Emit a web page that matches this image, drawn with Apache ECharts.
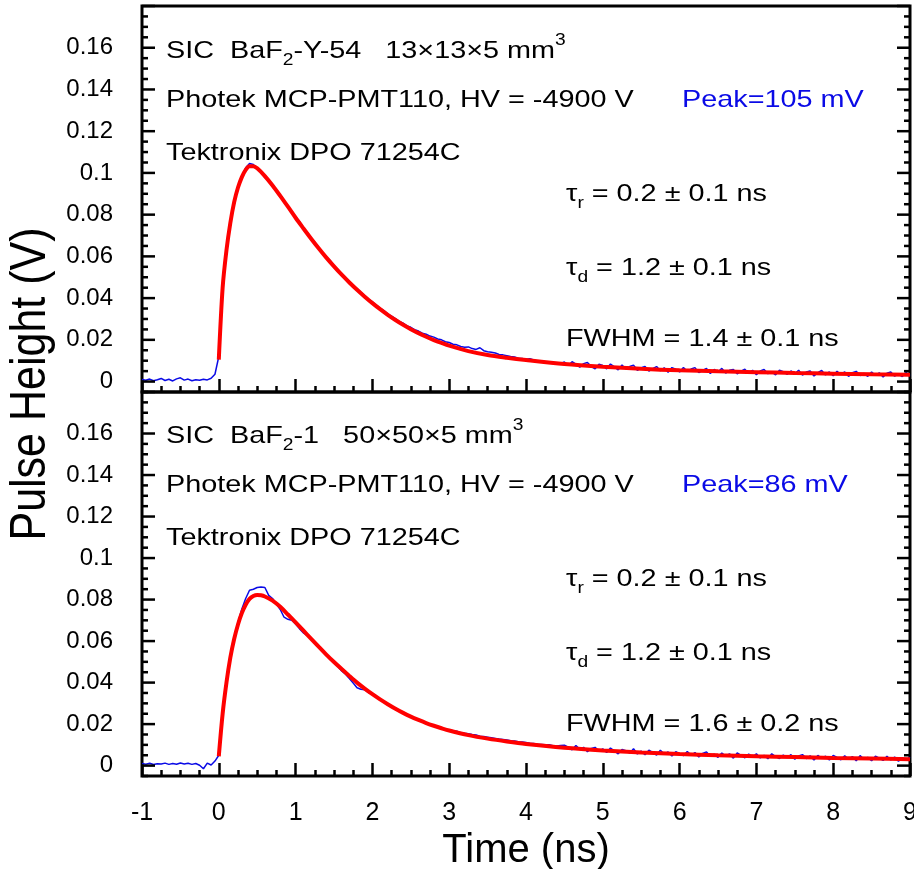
<!DOCTYPE html>
<html><head><meta charset="utf-8">
<script src="https://cdn.jsdelivr.net/npm/echarts@6/dist/echarts.min.js"></script>
<style>html,body{margin:0;padding:0;background:#fff}#c{width:914px;height:869px}</style>
</head><body><div id="c"></div>
<script>
// ---------- data ----------
const timeRange = [-1, 9];
const yRange = [-0.005, 0.18];
const yTickLabels = [0, 0.02, 0.04, 0.06, 0.08, 0.1, 0.12, 0.14, 0.16];
const yMajorTicks = [0, 0.02, 0.04, 0.06, 0.08, 0.1, 0.12, 0.14, 0.16, 0.18];

// top panel: BaF2-Y-54 measured trace (blue)
const topTrace = [
[-1,0.0010],[-0.95,0.0006],[-0.9,0.0012],[-0.85,0.0004],[-0.8,0.0009],[-0.75,0.0015],[-0.7,0.0005],[-0.65,0.0011],[-0.6,0.0003],[-0.55,0.0013],
[-0.5,0.0018],[-0.45,0.0007],[-0.4,0.0012],[-0.35,0.0004],[-0.3,0.0009],[-0.25,0.0006],[-0.2,0.0011],[-0.15,0.0008],[-0.1,0.0016],[-0.05,0.0035],
[0,0.0120],[0.05,0.0460],[0.1,0.0640],[0.15,0.0765],[0.2,0.0855],[0.25,0.0935],[0.3,0.0985],[0.35,0.1025],[0.4,0.1045],[0.45,0.1040],
[0.5,0.1018],[0.55,0.1003],[0.6,0.0978],[0.65,0.0962],[0.7,0.0935],[0.75,0.0915],[0.8,0.0885],[0.85,0.0866],[0.9,0.0840],[0.95,0.0808],
[1,0.0790],[1.05,0.0768],[1.1,0.0738],[1.15,0.0716],[1.2,0.0690],[1.25,0.0668],[1.3,0.0642],[1.35,0.0618],[1.4,0.0598],[1.45,0.0580],
[1.5,0.0555],[1.55,0.0537],[1.6,0.0516],[1.65,0.0496],[1.7,0.0480],[1.75,0.0460],[1.8,0.0446],[1.85,0.0428],[1.9,0.0412],[1.95,0.0395],
[2,0.0382],[2.05,0.0366],[2.1,0.0352],[2.15,0.0340],[2.2,0.0325],[2.25,0.0313],[2.3,0.0302],[2.35,0.0288],[2.4,0.0280],[2.45,0.0267],
[2.5,0.0260],[2.55,0.0249],[2.6,0.0242],[2.65,0.0232],[2.7,0.0227],[2.75,0.0218],[2.8,0.0213],[2.85,0.0204],[2.9,0.0200],[2.95,0.0191],
[3,0.0187],[3.05,0.0179],[3.1,0.0176],[3.15,0.0168],[3.2,0.0164],[3.25,0.0166],[3.3,0.0158],[3.35,0.0154],[3.4,0.0162],[3.45,0.0148],
[3.5,0.0143],[3.55,0.0140],[3.6,0.0137],[3.65,0.0130],[3.7,0.0128],[3.75,0.0124],[3.8,0.0120],[3.85,0.0118],[3.9,0.0112],[3.95,0.0111],
[4,0.0107],[4.05,0.0109],[4.1,0.0103],[4.15,0.0099],[4.2,0.0097],[4.25,0.0094],[4.3,0.0093],[4.35,0.0089],[4.4,0.0087],[4.45,0.0086],
[4.5,0.0094],[4.55,0.0077],[4.6,0.0095],[4.65,0.0084],[4.7,0.0069],[4.75,0.0086],[4.8,0.0091],[4.85,0.0072],[4.9,0.0061],[4.95,0.0083],
[5,0.0077],[5.05,0.0061],[5.1,0.0084],[5.15,0.0070],[5.2,0.0056],[5.25,0.0079],[5.3,0.0060],[5.35,0.0072],[5.4,0.0079],[5.45,0.0054],
[5.5,0.0066],[5.55,0.0072],[5.6,0.0050],[5.65,0.0062],[5.7,0.0072],[5.75,0.0052],[5.8,0.0066],[5.85,0.0044],[5.9,0.0067],[5.95,0.0059],
[6,0.0046],[6.05,0.0067],[6.1,0.0049],[6.15,0.0060],[6.2,0.0067],[6.25,0.0043],[6.3,0.0053],[6.35,0.0063],[6.4,0.0039],[6.45,0.0058],
[6.5,0.0046],[6.55,0.0063],[6.6,0.0041],[6.65,0.0054],[6.7,0.0058],[6.75,0.0037],[6.8,0.0050],[6.85,0.0059],[6.9,0.0039],[6.95,0.0054],
[7,0.0033],[7.05,0.0051],[7.1,0.0058],[7.15,0.0038],[7.2,0.0046],[7.25,0.0032],[7.3,0.0054],[7.35,0.0047],[7.4,0.0034],[7.45,0.0051],
[7.5,0.0037],[7.55,0.0054],[7.6,0.0031],[7.65,0.0046],[7.7,0.0051],[7.75,0.0027],[7.8,0.0043],[7.85,0.0053],[7.9,0.0032],[7.95,0.0046],
[8,0.0028],[8.05,0.0049],[8.1,0.0034],[8.15,0.0046],[8.2,0.0025],[8.25,0.0042],[8.3,0.0049],[8.35,0.0029],[8.4,0.0039],[8.45,0.0025],
[8.5,0.0046],[8.55,0.0030],[8.6,0.0042],[8.65,0.0022],[8.7,0.0040],[8.75,0.0046],[8.8,0.0026],[8.85,0.0036],[8.9,0.0024],[8.95,0.0043],[9,0.0029]
];
// top panel fit (red)
const topFit = [
[0,0.0105],[0.05,0.045],[0.1,0.063],[0.15,0.076],[0.2,0.086],[0.25,0.093],[0.3,0.098],[0.35,0.1015],[0.4,0.1032],[0.45,0.1032],
[0.5,0.1022],[0.6,0.0985],[0.7,0.0940],[0.8,0.0890],[0.9,0.0838],[1,0.0785],[1.1,0.0735],[1.2,0.0686],[1.3,0.0639],[1.4,0.0594],
[1.5,0.0552],[1.6,0.0512],[1.7,0.0475],[1.8,0.0440],[1.9,0.0407],[2,0.0376],[2.1,0.0347],[2.2,0.0320],[2.3,0.0295],[2.4,0.0272],
[2.5,0.0251],[2.6,0.0232],[2.7,0.0215],[2.8,0.0199],[2.9,0.0185],[3,0.0172],[3.25,0.0146],[3.5,0.0127],[3.75,0.0114],[4,0.0103],
[4.5,0.0084],[5,0.0071],[5.5,0.0061],[6,0.0054],[6.5,0.0049],[7,0.0045],[7.5,0.0041],[8,0.0038],[8.5,0.0035],[9,0.0033]
];

// bottom panel: BaF2-1 measured trace (blue)
const bottomTrace = [
[-1,0.0010],[-0.95,0.0007],[-0.9,0.0011],[-0.85,0.0005],[-0.8,0.0009],[-0.75,0.0008],[-0.7,0.0012],[-0.65,0.0006],[-0.6,0.0010],[-0.55,0.0007],
[-0.5,0.0013],[-0.45,0.0008],[-0.4,0.0011],[-0.35,0.0006],[-0.3,0.0010],[-0.25,0.0002],[-0.2,-0.0015],[-0.15,0.0012],[-0.1,0.0003],[-0.05,0.0022],
[0,0.0050],[0.05,0.0255],[0.1,0.0395],[0.15,0.0525],[0.2,0.0615],[0.25,0.0690],[0.3,0.0755],[0.35,0.0805],[0.4,0.0845],[0.45,0.0850],
[0.5,0.0858],[0.55,0.0860],[0.6,0.0858],[0.65,0.0820],[0.7,0.0805],[0.75,0.0778],[0.8,0.0752],[0.85,0.0715],[0.9,0.0705],[0.95,0.0700],
[1,0.0682],[1.05,0.0660],[1.1,0.0640],[1.15,0.0628],[1.2,0.0610],[1.25,0.0590],[1.3,0.0575],[1.35,0.0552],[1.4,0.0536],[1.45,0.0512],
[1.5,0.0495],[1.55,0.0478],[1.6,0.0456],[1.65,0.0440],[1.7,0.0420],[1.75,0.0398],[1.8,0.0375],[1.85,0.0368],[1.9,0.0366],[1.95,0.0352],
[2,0.0342],[2.05,0.0332],[2.1,0.0322],[2.15,0.0305],[2.2,0.0298],[2.25,0.0284],[2.3,0.0278],[2.35,0.0266],[2.4,0.0256],[2.45,0.0244],
[2.5,0.0238],[2.55,0.0226],[2.6,0.0222],[2.65,0.0212],[2.7,0.0203],[2.75,0.0201],[2.8,0.0190],[2.85,0.0188],[2.9,0.0178],[2.95,0.0176],
[3,0.0172],[3.05,0.0168],[3.1,0.0166],[3.15,0.0159],[3.2,0.0156],[3.25,0.0154],[3.3,0.0150],[3.35,0.0148],[3.4,0.0142],[3.45,0.0140],
[3.5,0.0137],[3.55,0.0134],[3.6,0.0131],[3.65,0.0128],[3.7,0.0126],[3.75,0.0123],[3.8,0.0120],[3.85,0.0119],[3.9,0.0115],[3.95,0.0114],
[4,0.0111],[4.05,0.0108],[4.1,0.0107],[4.15,0.0103],[4.2,0.0102],[4.25,0.0100],[4.3,0.0101],[4.35,0.0096],[4.4,0.0095],[4.45,0.0097],
[4.5,0.0098],[4.55,0.0089],[4.6,0.0076],[4.65,0.0097],[4.7,0.0079],[4.75,0.0088],[4.8,0.0067],[4.85,0.0083],[4.9,0.0088],[4.95,0.0069],
[5,0.0081],[5.05,0.0063],[5.1,0.0085],[5.15,0.0071],[5.2,0.0057],[5.25,0.0078],[5.3,0.0072],[5.35,0.0060],[5.4,0.0081],[5.45,0.0056],
[5.5,0.0070],[5.55,0.0052],[5.6,0.0074],[5.65,0.0064],[5.7,0.0051],[5.75,0.0074],[5.8,0.0055],[5.85,0.0066],[5.9,0.0046],[5.95,0.0067],
[6,0.0058],[6.05,0.0048],[6.1,0.0068],[6.15,0.0050],[6.2,0.0063],[6.25,0.0042],[6.3,0.0059],[6.35,0.0066],[6.4,0.0045],[6.45,0.0055],
[6.5,0.0040],[6.55,0.0061],[6.6,0.0046],[6.65,0.0057],[6.7,0.0036],[6.75,0.0061],[6.8,0.0049],[6.85,0.0038],[6.9,0.0056],[6.95,0.0041],
[7,0.0057],[7.05,0.0037],[7.1,0.0050],[7.15,0.0033],[7.2,0.0057],[7.25,0.0044],[7.3,0.0034],[7.35,0.0051],[7.4,0.0038],[7.45,0.0053],
[7.5,0.0031],[7.55,0.0046],[7.6,0.0053],[7.65,0.0034],[7.7,0.0047],[7.75,0.0027],[7.8,0.0049],[7.85,0.0035],[7.9,0.0045],[7.95,0.0027],
[8,0.0049],[8.05,0.0039],[8.1,0.0028],[8.15,0.0047],[8.2,0.0030],[8.25,0.0044],[8.3,0.0023],[8.35,0.0048],[8.4,0.0031],[8.45,0.0040],
[8.5,0.0024],[8.55,0.0045],[8.6,0.0036],[8.65,0.0025],[8.7,0.0045],[8.75,0.0027],[8.8,0.0041],[8.85,0.0021],[8.9,0.0039],[8.95,0.0028],[9,0.0041]
];
// bottom panel fit (red)
const bottomFit = [
[0,0.0045],[0.05,0.025],[0.1,0.040],[0.15,0.052],[0.2,0.061],[0.25,0.068],[0.3,0.0735],[0.35,0.0775],[0.4,0.0803],[0.45,0.0817],
[0.5,0.0822],[0.55,0.0821],[0.6,0.0815],[0.7,0.0795],[0.8,0.0765],[0.9,0.0728],[1,0.0690],[1.1,0.0651],[1.2,0.0612],[1.3,0.0573],
[1.4,0.0535],[1.5,0.0499],[1.6,0.0465],[1.7,0.0432],[1.8,0.0400],[1.9,0.0371],[2,0.0344],[2.1,0.0319],[2.2,0.0296],[2.3,0.0274],
[2.4,0.0254],[2.5,0.0236],[2.6,0.0220],[2.7,0.0205],[2.8,0.0192],[2.9,0.0180],[3,0.0169],[3.25,0.0147],[3.5,0.0130],[3.75,0.0116],
[4,0.0104],[4.5,0.0086],[5,0.0073],[5.5,0.0063],[6,0.0056],[6.5,0.0050],[7,0.0045],[7.5,0.0041],[8,0.0037],[8.5,0.0034],[9,0.0031]
];

const topLabels = {
  sample: 'SIC  BaF{sub|2}-Y-54   13×13×5 mm{sup|3}',
  pmt: 'Photek MCP-PMT110, HV = -4900 V',
  peak: 'Peak=105 mV',
  scope: 'Tektronix DPO 71254C',
  rise: 'τ{sub|r} = 0.2 ± 0.1 ns',
  decay: 'τ{sub|d} = 1.2 ± 0.1 ns',
  fwhm: 'FWHM = 1.4 ± 0.1 ns'
};
const bottomLabels = {
  sample: 'SIC  BaF{sub|2}-1   50×50×5 mm{sup|3}',
  pmt: 'Photek MCP-PMT110, HV = -4900 V',
  peak: 'Peak=86 mV',
  scope: 'Tektronix DPO 71254C',
  rise: 'τ{sub|r} = 0.2 ± 0.1 ns',
  decay: 'τ{sub|d} = 1.2 ± 0.1 ns',
  fwhm: 'FWHM = 1.6 ± 0.2 ns'
};

// ---------- layout / style ----------
const FONT = '"Liberation Sans", Arial, Helvetica, sans-serif';
const BLUE = '#0a0ae6';
const RED = '#ff0000';
const MAJOR_LEN = 13, MINOR_LEN = 6, TICK_W = 2.5;
const panels = [{top: 6, height: 386}, {top: 392, height: 384}];
function tickLine() { return {color: '#000', width: TICK_W}; }

// minor tick values every 0.005 V (skipping the major ones)
const yMinorTicks = [];
for (let k = -1; k <= 36; k++) { if (k % 4 !== 0) yMinorTicks.push(+(k * 0.005).toFixed(3)); }

const grids = panels.map(p => ({left: 142, right: 4, top: p.top, height: p.height,
  show: true, borderColor: '#000', borderWidth: 3, backgroundColor: 'transparent', containLabel: false, outerBoundsMode: 'none'}));

const xAxes = panels.map((p, i) => {
  const withLabels = i === 1;
  return {
    type: 'value', gridIndex: i, min: timeRange[0], max: timeRange[1], interval: 1,
    axisLine: {show: false, onZero: false},
    axisTick: {show: true, inside: true, length: MAJOR_LEN, lineStyle: tickLine()},
    minorTick: {show: true, splitNumber: 4, length: MINOR_LEN, lineStyle: tickLine()},
    splitLine: {show: false}, minorSplitLine: {show: false},
    axisLabel: {show: withLabels, margin: 25, color: '#000', fontSize: 25, fontFamily: FONT, hideOverlap: false},
    name: withLabels ? 'Time (ns)' : '', nameLocation: 'middle', nameGap: 55,
    nameTextStyle: {fontSize: 40, fontFamily: FONT, color: '#000'}
  };
});
const yAxes = panels.map((p, i) => ({
  type: 'value', gridIndex: i, min: yRange[0], max: yRange[1], position: 'left',
  axisLine: {show: false, onZero: false}, axisTick: {show: false}, splitLine: {show: false},
  axisLabel: {show: true, customValues: yTickLabels, margin: 29, color: '#000', fontSize: 24, fontFamily: FONT,
    formatter: v => String(v)}
}));

const series = [
  {type: 'line', xAxisIndex: 0, yAxisIndex: 0, data: topTrace, showSymbol: false, symbol: 'none',
    lineStyle: {color: BLUE, width: 1.5}, z: 2},
  {type: 'line', xAxisIndex: 0, yAxisIndex: 0, data: topFit, showSymbol: false, symbol: 'none', smooth: 0.3,
    lineStyle: {color: RED, width: 4}, z: 3},
  {type: 'line', xAxisIndex: 1, yAxisIndex: 1, data: bottomTrace, showSymbol: false, symbol: 'none',
    lineStyle: {color: BLUE, width: 1.5}, z: 2},
  {type: 'line', xAxisIndex: 1, yAxisIndex: 1, data: bottomFit, showSymbol: false, symbol: 'none', smooth: 0.3,
    lineStyle: {color: RED, width: 4}, z: 3}
];

const richStyles = {
  sub: {fontSize: 16, fontFamily: FONT, padding: [20, 0, 0, 0]},
  sup: {fontSize: 16, fontFamily: FONT, padding: [0, 0, 20, 0]}
};
function textEl(x, y, text, color) {
  return {type: 'text', x: x, y: y, scaleX: 1.2, z: 100,
    style: {text: text, fontSize: 24, fontFamily: FONT, fill: color || '#000',
      align: 'left', verticalAlign: 'middle', rich: richStyles}};
}
function panelTexts(L, dy) {
  return [
    textEl(166, 51 + dy, L.sample),
    textEl(166, 100 + dy, L.pmt),
    textEl(682, 100 + dy, L.peak, BLUE),
    textEl(166, 153 + dy, L.scope),
    textEl(566, 194 + dy, L.rise),
    textEl(566, 268 + dy, L.decay),
    textEl(566, 339 + dy, L.fwhm)
  ];
}
const textGraphics = panelTexts(topLabels, 0).concat(panelTexts(bottomLabels, 385)).concat([
  {type: 'text', x: 31, y: 384, rotation: Math.PI / 2, scaleY: 1.15,
    style: {text: 'Pulse Height (V)', fontSize: 43, fontFamily: FONT, fill: '#000', align: 'center', verticalAlign: 'middle'}}
]);

const chart = echarts.init(document.getElementById('c'), null, {renderer: 'canvas'});
chart.setOption({
  animation: false,
  backgroundColor: '#fff',
  grid: grids,
  xAxis: xAxes,
  yAxis: yAxes,
  series: series,
  graphic: textGraphics
});

// y-axis tick marks on the left and right frame, positioned through each panel's own scales
const tickGraphics = [];
[0, 1].forEach(i => {
  const finder = {xAxisIndex: i, yAxisIndex: i};
  [[yMajorTicks, MAJOR_LEN], [yMinorTicks, MINOR_LEN]].forEach(([vals, len]) => {
    vals.forEach(v => {
      const pl = chart.convertToPixel(finder, [timeRange[0], v]);
      const pr = chart.convertToPixel(finder, [timeRange[1], v]);
      tickGraphics.push({type: 'line', z: 150, silent: true,
        shape: {x1: pl[0], y1: pl[1], x2: pl[0] + len, y2: pl[1]}, style: {stroke: '#000', lineWidth: TICK_W}});
      tickGraphics.push({type: 'line', z: 150, silent: true,
        shape: {x1: pr[0] - len, y1: pr[1], x2: pr[0], y2: pr[1]}, style: {stroke: '#000', lineWidth: TICK_W}});
    });
  });
});
chart.setOption({graphic: textGraphics.concat(tickGraphics)}, {replaceMerge: ['graphic']});
</script></body></html>
